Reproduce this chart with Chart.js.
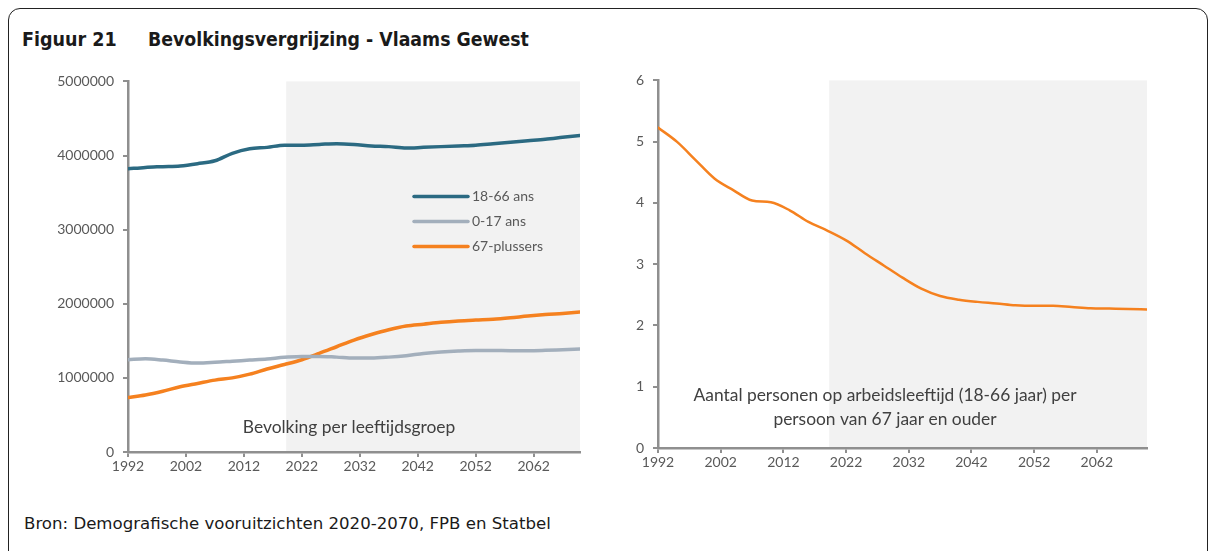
<!DOCTYPE html>
<html>
<head>
<meta charset="utf-8">
<script src="https://cdn.jsdelivr.net/npm/chart.js@4.4.1/dist/chart.umd.min.js"></script>
<style>
  html, body { margin:0; padding:0; background:#fff; }
  body { width:1215px; height:551px; position:relative; overflow:hidden; }
  #frame { position:absolute; left:8px; top:8px; width:1200px; height:600px; border:1.5px solid #222; border-radius:12px; box-sizing:border-box; }
  .t { position:absolute; font-family:'DejaVu Sans',sans-serif; color:#1a1a1a; white-space:nowrap; }
  #fig, #ttl { font-family:'DejaVu Sans Condensed','DejaVu Sans',sans-serif; font-stretch:condensed; font-size:19.5px; font-weight:bold; top:28px; }
  #fig { left:22px; }
  #ttl { left:148px; font-size:19.3px; }
  #src { left:24px; top:514px; font-size:16.6px; }
  .box { position:absolute; }
  #b1 { left:40px; top:64px; width:550px; height:416px; }
  #b2 { left:610px; top:63px; width:550px; height:417px; }
</style>
</head>
<body>
<div id="frame"></div>
<div class="t" id="fig">Figuur 21</div>
<div class="t" id="ttl">Bevolkingsvergrijzing - Vlaams Gewest</div>
<div class="t" id="src">Bron: Demografische vooruitzichten 2020-2070, FPB en Statbel</div>
<div class="box" id="b1"><canvas id="c1"></canvas></div>
<div class="box" id="b2"><canvas id="c2"></canvas></div>
<script>
// ---- data ----
const years = [1992,1995,1998,2001,2004,2007,2010,2013,2016,2019,2022,2025,2028,2031,2034,2037,2040,2043,2046,2049,2052,2055,2058,2061,2064,2067,2070];
const pop18_66 = [3820000,3840000,3850000,3860000,3890000,3930000,4030000,4090000,4110000,4140000,4140000,4150000,4160000,4150000,4130000,4120000,4100000,4110000,4120000,4130000,4140000,4160000,4180000,4200000,4220000,4245000,4270000];
const pop0_17 = [1245000,1257000,1240000,1215000,1200000,1210000,1225000,1240000,1255000,1278000,1288000,1290000,1280000,1268000,1268000,1280000,1300000,1330000,1350000,1363000,1370000,1370000,1367000,1367000,1372000,1380000,1388000];
const pop67plus = [735000,770000,820000,880000,925000,970000,1000000,1050000,1120000,1180000,1245000,1330000,1420000,1510000,1585000,1650000,1700000,1725000,1750000,1768000,1780000,1790000,1810000,1835000,1855000,1870000,1888000];
const ratio = [5.23,5.00,4.70,4.40,4.21,4.04,4.01,3.88,3.69,3.55,3.39,3.18,2.98,2.78,2.60,2.48,2.42,2.385,2.36,2.33,2.32,2.32,2.30,2.28,2.275,2.27,2.26];
const seriesNames = ['18-66 ans','0-17 ans','67-plussers'];
const seriesColors = ['#2b6a82','#a3afbc','#f5811f'];
const xTicks = [1992,2002,2012,2022,2032,2042,2052,2062];
const yTicksLeft = [0,1000000,2000000,3000000,4000000,5000000];
const yTicksRight = [0,1,2,3,4,5,6];
const projectionStart = 2019.3;
const leftNote = ['Bevolking per leeftijdsgroep'];
const rightNote = ['Aantal personen op arbeidsleeftijd (18-66 jaar) per','persoon van 67 jaar en ouder'];

const tickFont = { family:'Lato, sans-serif', size:14 };
const tickColor = '#595959';
const axisColor = '#8f8f8f';

const shadePlugin = {
  id:'shade',
  beforeDraw(chart) {
    const {ctx, chartArea:a, scales:{x}} = chart;
    const x0 = x.getPixelForValue(projectionStart);
    ctx.save();
    ctx.fillStyle = '#f2f2f2';
    ctx.fillRect(x0, a.top, a.right - x0, a.bottom - a.top);
    ctx.restore();
  }
};
const notePlugin = {
  id:'note',
  afterDatasetsDraw(chart, args, opts) {
    const {ctx, chartArea:a} = chart;
    ctx.save();
    ctx.fillStyle = '#404040';
    ctx.font = '17.4px Lato, sans-serif';
    ctx.textAlign = 'center';
    ctx.textBaseline = 'middle';
    opts.lines.forEach((l,i) => ctx.fillText(l, a.left + opts.dx, a.top + opts.dy + i*opts.lh));
    if (opts.legend) {
      chart.data.datasets.forEach((d,i) => {
        const y = a.top + 115 + i*25;
        const x = a.left + 286;
        ctx.strokeStyle = d.borderColor; ctx.lineWidth = 3.5; ctx.lineCap='round';
        ctx.beginPath(); ctx.moveTo(x, y); ctx.lineTo(x+54, y); ctx.stroke();
        ctx.fillStyle = tickColor; ctx.font = '14px Lato, sans-serif'; ctx.textAlign='left';
        ctx.fillText(d.label, x+58, y);
      });
    }
    ctx.restore();
  }
};

function xScale(h) {
  return {
    type:'linear', min:1992, max:2070,
    afterBuildTicks(s){ s.ticks = xTicks.map(v=>({value:v})); },
    afterFit(s){ s.height = h; },
    ticks:{ font:tickFont, color:tickColor, padding:1, maxRotation:0, autoSkip:false, callback:v=>String(v) },
    grid:{ drawOnChartArea:false, drawTicks:true, tickLength:5, color:axisColor, lineWidth:2 },
    border:{ display:true, color:axisColor, width:2.5 }
  };
}
function yScale(w, max, ticks, pad) {
  return {
    min:0, max:max,
    afterBuildTicks(s){ s.ticks = ticks.map(v=>({value:v})); },
    afterFit(s){ s.width = w; },
    ticks:{ font:tickFont, color:tickColor, padding:pad, callback:v=>String(v) },
    grid:{ drawOnChartArea:false, drawTicks:true, tickLength:5, color:axisColor, lineWidth:2 },
    border:{ display:true, color:axisColor, width:2.5 }
  };
}

const common = {
  responsive:true, maintainAspectRatio:false, animation:false,
  elements:{ point:{ radius:0 }, line:{ cubicInterpolationMode:'monotone', borderCapStyle:'round' } },
  plugins:{ legend:{ display:false }, tooltip:{ enabled:false } }
};

new Chart(document.getElementById('c1'), {
  type:'line',
  data:{ datasets:[
    { label:seriesNames[0], data:years.map((y,i)=>({x:y,y:pop18_66[i]})), borderColor:seriesColors[0], borderWidth:3.5 },
    { label:seriesNames[1], data:years.map((y,i)=>({x:y,y:pop0_17[i]})), borderColor:seriesColors[1], borderWidth:3.5 },
    { label:seriesNames[2], data:years.map((y,i)=>({x:y,y:pop67plus[i]})), borderColor:seriesColors[2], borderWidth:3.5 }
  ]},
  options:{ ...common,
    layout:{ padding:{ top:0, right:10, left:0, bottom:0 } },
    scales:{ x:xScale(28), y:yScale(88, 5000000, yTicksLeft, 9) },
    plugins:{ ...common.plugins, note:{ lines:leftNote, dx:221, dy:346, lh:24, legend:true } }
  },
  plugins:[shadePlugin, notePlugin]
});

new Chart(document.getElementById('c2'), {
  type:'line',
  data:{ datasets:[
    { label:'ratio', data:years.map((y,i)=>({x:y,y:ratio[i]})), borderColor:seriesColors[2], borderWidth:2.5 }
  ]},
  options:{ ...common,
    layout:{ padding:{ top:0, right:13, left:0, bottom:0 } },
    scales:{ x:xScale(32), y:yScale(48, 6, yTicksRight, 9) },
    plugins:{ ...common.plugins, note:{ lines:rightNote, dx:227, dy:315, lh:24, legend:false } }
  },
  plugins:[shadePlugin, notePlugin]
});
</script>
</body>
</html>
